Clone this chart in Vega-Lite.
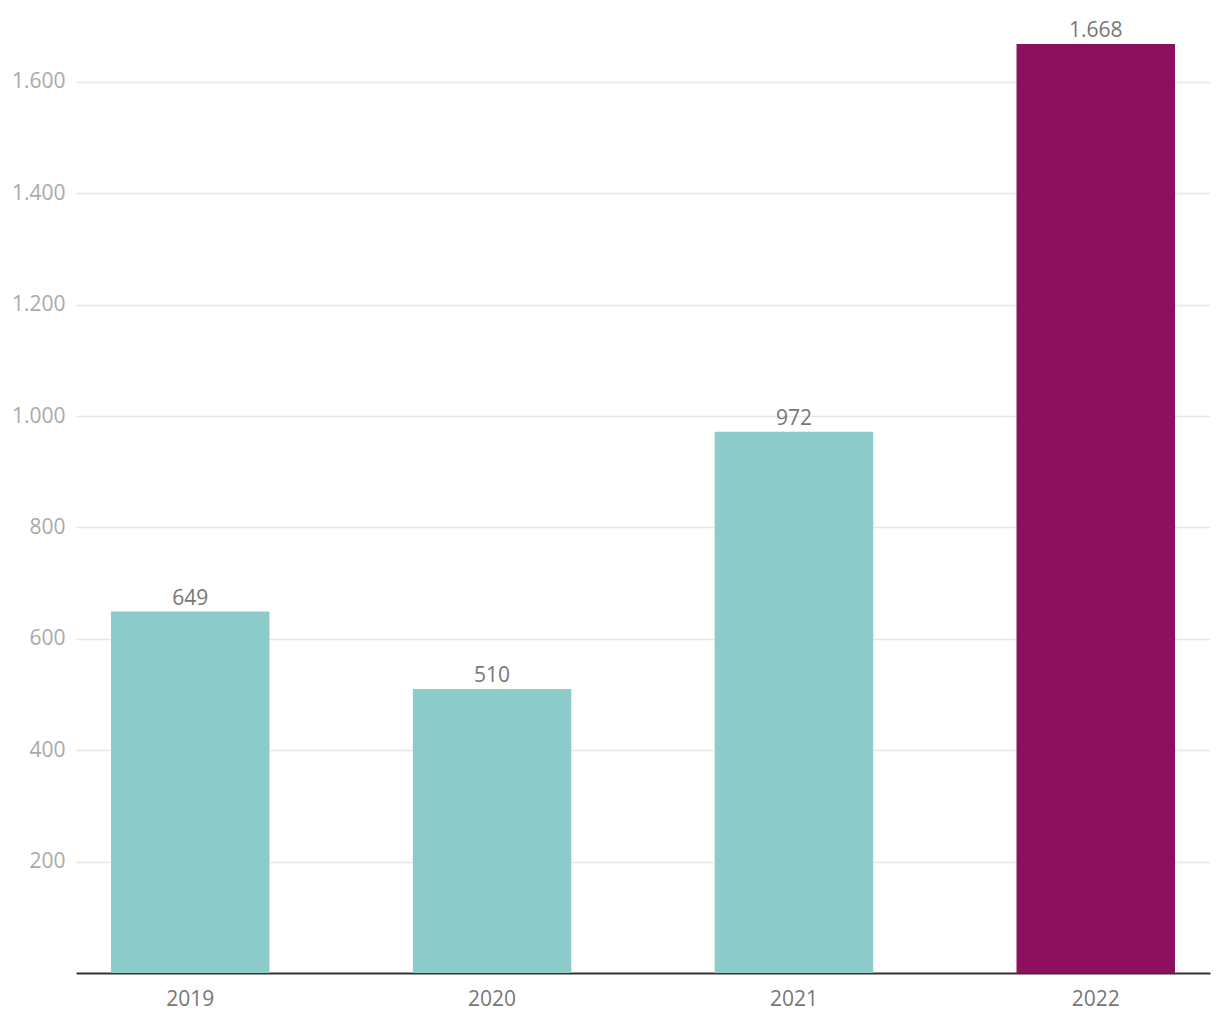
{
  "$schema": "https://vega.github.io/schema/vega-lite/v6.json",
  "width": 1134,
  "height": 963,
  "autosize": {"type": "none"},
  "padding": {"left": 76, "top": 10, "right": 10, "bottom": 47},
  "background": "white",
  "config": {
    "view": {"stroke": null},
    "font": "Open Sans",
    "locale": {"number": {"decimal": ",", "thousands": ".", "grouping": [3], "currency": ["", " €"]}}
  },
  "data": {"values": [
    {"year": "2019", "value": 649, "hl": "no"},
    {"year": "2020", "value": 510, "hl": "no"},
    {"year": "2021", "value": 972, "hl": "no"},
    {"year": "2022", "value": 1668, "hl": "yes"}
  ]},
  "encoding": {
    "x": {"field": "year", "type": "nominal", "sort": null,
      "scale": {"paddingInner": 0.475, "paddingOuter": 0.116},
      "axis": {"title": null, "labelAngle": 0, "labelFontSize": 21, "labelColor": "#777777", "labelPadding": 15, "ticks": false, "domainColor": "#333333", "domainWidth": 2, "grid": false}},
    "y": {"field": "value", "type": "quantitative",
      "scale": {"domain": [0, 1729], "nice": false},
      "axis": {"title": null, "values": [200, 400, 600, 800, 1000, 1200, 1400, 1600], "labelFontSize": 21, "labelColor": "#aaaaaa", "labelPadding": 11, "ticks": false, "domain": false, "gridColor": "#e6e6e6", "gridWidth": 1.5, "format": ",d"}}
  },
  "layer": [
    {"mark": {"type": "bar"},
     "encoding": {"color": {"field": "hl", "type": "nominal", "scale": {"domain": ["no", "yes"], "range": ["#8ccbca", "#8c105e"]}, "legend": null}}},
    {"mark": {"type": "text", "baseline": "bottom", "dy": -3, "fontSize": 21, "color": "#777777"},
     "encoding": {"text": {"field": "value", "type": "quantitative", "format": ",d"}}}
  ]
}
